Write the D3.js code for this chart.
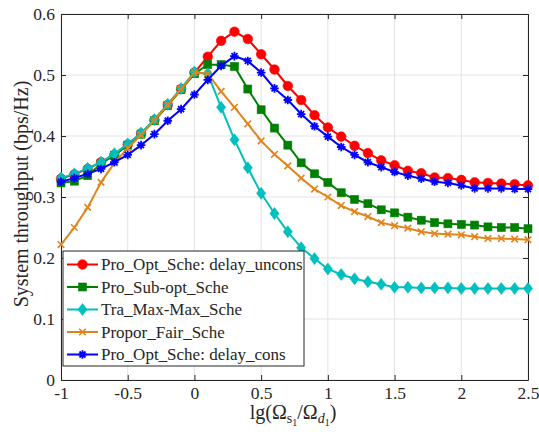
<!DOCTYPE html>
<html>
<head>
<meta charset="utf-8">
<script src="https://cdn.jsdelivr.net/npm/d3@7"></script>
<style>
  body { margin: 0; background: #fff; }
  svg text { font-family: "Liberation Serif", "Times New Roman", Times, serif; fill: #262626; }
</style>
</head>
<body>
<div id="chart"></div>
<script>
const xVals = [-1, -0.9, -0.8, -0.7, -0.6, -0.5, -0.4, -0.3, -0.2, -0.1, 0,
  0.1, 0.2, 0.3, 0.4, 0.5, 0.6, 0.7, 0.8, 0.9, 1.0, 1.1, 1.2, 1.3, 1.4, 1.5,
  1.6, 1.7, 1.8, 1.9, 2.0, 2.1, 2.2, 2.3, 2.4, 2.5];

const optUncons = [0.330, 0.337, 0.346, 0.357, 0.369, 0.386, 0.404, 0.426, 0.451, 0.477, 0.504,
  0.530, 0.556, 0.571, 0.559, 0.534, 0.509, 0.482, 0.459, 0.434, 0.414, 0.399, 0.384, 0.372, 0.360,
  0.352, 0.343, 0.339, 0.332, 0.331, 0.328, 0.324, 0.323, 0.322, 0.321, 0.319];
const subOpt = [0.323, 0.326, 0.335, 0.355, 0.368, 0.385, 0.403, 0.425, 0.450, 0.476, 0.502,
  0.517, 0.517, 0.514, 0.477, 0.443, 0.413, 0.385, 0.356, 0.338, 0.324, 0.307, 0.296, 0.289, 0.279,
  0.274, 0.267, 0.262, 0.258, 0.256, 0.255, 0.254, 0.251, 0.250, 0.250, 0.248];
const maxMax = [0.331, 0.338, 0.347, 0.357, 0.371, 0.387, 0.405, 0.427, 0.452, 0.478, 0.505,
  0.502, 0.447, 0.394, 0.348, 0.306, 0.273, 0.243, 0.217, 0.199, 0.182, 0.173, 0.166, 0.161, 0.157,
  0.152, 0.152, 0.151, 0.151, 0.151, 0.150, 0.150, 0.150, 0.150, 0.150, 0.150];
const propFair = [0.222, 0.250, 0.283, 0.324, 0.356, 0.380, 0.402, 0.426, 0.451, 0.477, 0.504,
  0.502, 0.473, 0.447, 0.420, 0.392, 0.370, 0.351, 0.331, 0.313, 0.300, 0.286, 0.276, 0.268, 0.258,
  0.253, 0.249, 0.243, 0.240, 0.239, 0.238, 0.235, 0.232, 0.232, 0.231, 0.230];
const optCons = [0.325, 0.331, 0.338, 0.346, 0.357, 0.369, 0.385, 0.403, 0.425, 0.444, 0.468,
  0.492, 0.515, 0.531, 0.523, 0.504, 0.478, 0.459, 0.436, 0.416, 0.399, 0.382, 0.369, 0.357, 0.349,
  0.341, 0.335, 0.330, 0.325, 0.323, 0.319, 0.314, 0.314, 0.314, 0.313, 0.313];

const seriesNames = ["Pro_Opt_Sche: delay_uncons", "Pro_Sub-opt_Sche", "Tra_Max-Max_Sche",
  "Propor_Fair_Sche", "Pro_Opt_Sche: delay_cons"];
const xTicks = [-1, -0.5, 0, 0.5, 1, 1.5, 2, 2.5];
const yTicks = [0, 0.1, 0.2, 0.3, 0.4, 0.5, 0.6];

const series = [
  { name: seriesNames[0], values: optUncons, color: "#ff0000", marker: "circle" },
  { name: seriesNames[1], values: subOpt, color: "#008000", marker: "square" },
  { name: seriesNames[2], values: maxMax, color: "#00bfbf", marker: "diamond" },
  { name: seriesNames[3], values: propFair, color: "#e0841c", marker: "x" },
  { name: seriesNames[4], values: optCons, color: "#0000ff", marker: "star" }
];

const serif = '"Liberation Serif", "Times New Roman", Times, serif';

const W = 539, H = 434;
const margin = { top: 14, right: 11, bottom: 54, left: 61 };
const w = W - margin.left - margin.right;
const h = H - margin.top - margin.bottom;

const svg = d3.select("#chart").append("svg")
  .attr("width", W)
  .attr("height", H)
  .attr("font-family", serif);

const g = svg.append("g")
  .attr("transform", `translate(${margin.left},${margin.top})`);

const x = d3.scaleLinear().domain([-1, 2.5]).range([0, w]);
const y = d3.scaleLinear().domain([0, 0.6]).range([h, 0]);

// grid
g.append("g").selectAll("line").data(xTicks).enter().append("line")
  .attr("x1", d => x(d)).attr("x2", d => x(d))
  .attr("y1", 0).attr("y2", h)
  .style("stroke", "#e3e3e3").style("stroke-width", 1);
g.append("g").selectAll("line").data(yTicks).enter().append("line")
  .attr("y1", d => y(d)).attr("y2", d => y(d))
  .attr("x1", 0).attr("x2", w)
  .style("stroke", "#e3e3e3").style("stroke-width", 1);

// axes (box with inward ticks), plain hyphen minus like matlab
const fmt = d => String(d);
const styleAxis = sel => {
  sel.attr("font-family", serif);
  sel.selectAll("path").style("stroke", "#262626");
  sel.selectAll("line").style("stroke", "#262626");
  sel.selectAll("text").style("font-size", "17.5px").style("font-family", serif).style("fill", "#262626");
};

g.append("g").attr("transform", `translate(0,${h})`)
  .call(d3.axisBottom(x).tickValues(xTicks).tickFormat(fmt).tickSizeInner(-5).tickSizeOuter(0).tickPadding(7))
  .call(styleAxis);
g.append("g")
  .call(d3.axisTop(x).tickValues(xTicks).tickFormat("").tickSizeInner(-5).tickSizeOuter(0))
  .call(styleAxis);
g.append("g")
  .call(d3.axisLeft(y).tickValues(yTicks).tickFormat(fmt).tickSizeInner(-5).tickSizeOuter(0).tickPadding(6))
  .call(styleAxis);
g.append("g").attr("transform", `translate(${w},0)`)
  .call(d3.axisRight(y).tickValues(yTicks).tickFormat("").tickSizeInner(-5).tickSizeOuter(0))
  .call(styleAxis);

// markers
function drawMarker(sel, type, color) {
  if (type === "circle") {
    sel.append("circle").attr("r", 4.8).style("fill", color).style("stroke", color).style("stroke-width", 0.6);
  } else if (type === "square") {
    sel.append("rect").attr("x", -4).attr("y", -4).attr("width", 8).attr("height", 8)
      .style("fill", color).style("stroke", color).style("stroke-width", 0.6);
  } else if (type === "diamond") {
    sel.append("path").attr("d", "M0,-6L4.6,0L0,6L-4.6,0Z").style("fill", color).style("stroke", color).style("stroke-width", 0.6);
  } else if (type === "x") {
    sel.append("path").attr("d", "M-3.3,-3.3L3.3,3.3M-3.3,3.3L3.3,-3.3")
      .style("stroke", color).style("stroke-width", 1.6).style("fill", "none");
  } else if (type === "star") {
    sel.append("path").attr("d", "M0,-4.3L0,4.3M-4.3,0L4.3,0M-3,-3L3,3M-3,3L3,-3")
      .style("stroke", color).style("stroke-width", 1.8).style("fill", "none");
  }
}

const line = d3.line()
  .x((d, i) => x(xVals[i]))
  .y(d => y(d));

series.forEach(s => {
  g.append("path")
    .datum(s.values)
    .attr("d", line)
    .style("stroke", s.color)
    .style("stroke-width", 2)
    .style("fill", "none");

  g.selectAll(null)
    .data(s.values)
    .enter().append("g")
    .attr("transform", (d, i) => `translate(${x(xVals[i])},${y(d)})`)
    .each(function() { drawMarker(d3.select(this), s.marker, s.color); });
});

// legend
const legend = g.append("g").attr("transform", "translate(2,237)");
legend.append("rect")
  .attr("width", 241).attr("height", 115)
  .style("fill", "#fff").style("stroke", "#262626").style("stroke-width", 1);

series.forEach((s, i) => {
  const row = legend.append("g").attr("transform", `translate(0,${13.5 + i * 22.5})`);
  row.append("line").attr("x1", 4).attr("x2", 35).attr("y1", 0).attr("y2", 0)
    .style("stroke", s.color).style("stroke-width", 2);
  drawMarker(row.append("g").attr("transform", "translate(19.5,0)"), s.marker, s.color);
  row.append("text").attr("x", 38).attr("y", 0).attr("dy", "0.34em")
    .style("font-size", "17px")
    .style("font-family", serif)
    .text(s.name);
});

// axis titles
svg.append("text")
  .attr("transform", `translate(28,${margin.top + 180}) rotate(-90)`)
  .style("text-anchor", "middle")
  .style("font-size", "20px")
  .style("font-family", serif)
  .text("System throughput (bps/Hz)");

const xl = svg.append("text")
  .attr("x", 293)
  .attr("y", 419)
  .style("text-anchor", "middle")
  .style("font-size", "20px")
  .style("font-family", serif);
xl.append("tspan").text("lg(Ω");
xl.append("tspan").attr("dy", 4).style("font-size", "14px").text("s");
xl.append("tspan").attr("dy", 3).style("font-size", "10px").text("1");
xl.append("tspan").attr("dy", -7).text("/Ω");
xl.append("tspan").attr("dy", 4).style("font-size", "14px").style("font-style", "italic").text("d");
xl.append("tspan").attr("dy", 3).style("font-size", "10px").text("1");
xl.append("tspan").attr("dy", -7).text(")");
</script>
</body>
</html>
